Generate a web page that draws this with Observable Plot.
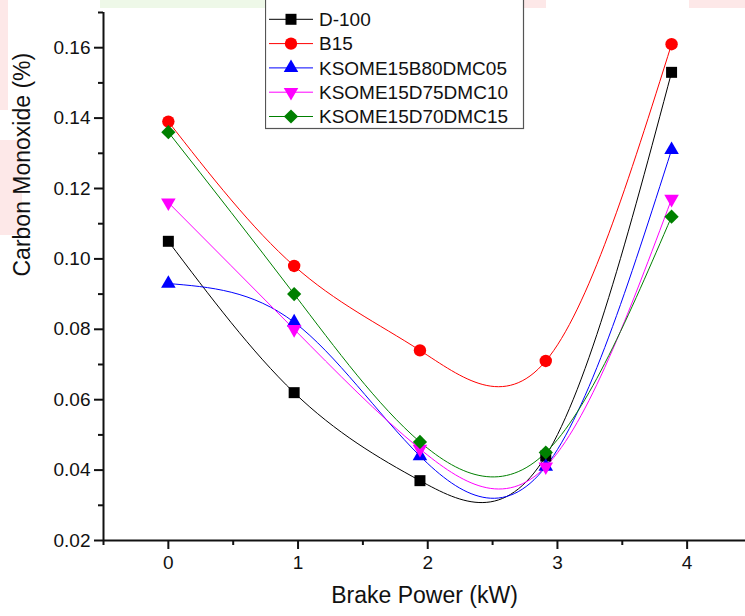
<!DOCTYPE html>
<html>
<head>
<meta charset="utf-8">
<script src="https://cdn.jsdelivr.net/npm/d3@7"></script>
<script src="https://cdn.jsdelivr.net/npm/@observablehq/plot@0.6"></script>
<style>
  html, body { margin: 0; padding: 0; background: #fff; }
  #wrap { position: relative; width: 745px; height: 616px; overflow: hidden; background: #fff; font-family: "Liberation Sans", Arial, sans-serif; }
  .wm { position: absolute; }
  #chart { position: absolute; left: 0; top: 0; }
  #legend { position: absolute; left: 265px; top: -6px; }
</style>
</head>
<body>
<div id="wrap">
  <div class="wm" style="left:100px;top:0;width:304px;height:8px;background:#eef8e8"></div>
  <div class="wm" style="left:451px;top:0;width:95px;height:8px;background:#fde8e8"></div>
  <div class="wm" style="left:689px;top:0;width:56px;height:8px;background:#fde8e8"></div>
  <div class="wm" style="left:0;top:0;width:8px;height:110px;background:#fde8e8"></div>
  <div class="wm" style="left:0;top:140px;width:22px;height:95px;background:#fde8e8"></div>
  <div id="chart"></div>
  <div id="legend"></div>
</div>
<script>
// ---- data ----
const brakePower = [0, 0.97, 1.94, 2.91, 3.88];
const seriesNames = ["D-100", "B15", "KSOME15B80DMC05", "KSOME15D75DMC10", "KSOME15D70DMC15"];
const d100 = [0.105, 0.062, 0.037, 0.044, 0.153];
const b15 = [0.139, 0.098, 0.074, 0.071, 0.161];
const ksome05 = [0.093, 0.082, 0.044, 0.041, 0.131];
const ksome10 = [0.116, 0.080, 0.046, 0.041, 0.117];
const ksome15 = [0.136, 0.090, 0.048, 0.045, 0.112];
const xTicks = [0, 1, 2, 3, 4];
const xMinorTicks = [-0.5, 0.5, 1.5, 2.5, 3.5];
const yTicks = [0.02, 0.04, 0.06, 0.08, 0.10, 0.12, 0.14, 0.16];
const yMinorTicks = [0.03, 0.05, 0.07, 0.09, 0.11, 0.13, 0.15, 0.17];

// ---- styling ----
const colors = ["#000000", "#ff0000", "#0000ff", "#ff00ff", "#008000"];
const triangleDown = {
  draw(context, size) {
    const y = -Math.sqrt(size / (Math.sqrt(3) * 3));
    context.moveTo(0, -y * 2);
    context.lineTo(-Math.sqrt(3) * y, y);
    context.lineTo(Math.sqrt(3) * y, y);
    context.closePath();
  }
};
const symbols = ["square", "circle", "triangle", triangleDown, "diamond2"];
const radii = [6.2, 6.2, 5.4, 5.4, 6.4];

const allValues = [d100, b15, ksome05, ksome10, ksome15];
const series = seriesNames.map((name, i) => ({
  name, color: colors[i], symbol: symbols[i], r: radii[i],
  data: brakePower.map((x, j) => ({x, y: allValues[i][j]}))
}));

const fontSize = 19;
const marks = [];
series.forEach(s => {
  marks.push(Plot.line(s.data, {x: "x", y: "y", curve: "natural", stroke: s.color, strokeWidth: 1}));
});
series.forEach(s => {
  marks.push(Plot.dot(s.data, {x: "x", y: "y", symbol: () => s.symbol, r: s.r, fill: s.color, stroke: "none"}));
});

const chart = Plot.plot({
  width: 745,
  height: 616,
  marginLeft: 103,
  marginRight: 0,
  marginTop: 12,
  marginBottom: 76,
  style: {fontFamily: "'Liberation Sans', Arial, sans-serif", background: "transparent", color: "#111", overflow: "visible"},
  x: {domain: [-0.5, 4.45], label: null},
  y: {domain: [0.02, 0.17], label: null},
  symbol: {type: "identity"},
  marks: [
    Plot.axisX({ticks: xMinorTicks, tickSize: 5, tickFormat: () => "", strokeWidth: 2, label: null}),
    Plot.axisX({ticks: xTicks, tickSize: 9, tickPadding: 6, tickFormat: d => String(d), fontSize, strokeWidth: 2, label: null}),
    Plot.axisY({ticks: yMinorTicks, tickSize: 5, tickFormat: () => "", strokeWidth: 2, label: null}),
    Plot.axisY({ticks: yTicks, tickSize: 9, tickPadding: 4, tickFormat: d => d.toFixed(2), fontSize, strokeWidth: 2, label: null}),
    Plot.ruleX([-0.5], {strokeWidth: 2}),
    Plot.ruleY([0.02], {strokeWidth: 2}),
    Plot.text(["Carbon Monoxide (%)"], {frameAnchor: "left", rotate: -90, dx: -81, fontSize: 23, fill: "#111"}),
    Plot.text(["Brake Power (kW)"], {frameAnchor: "bottom", dy: 62, fontSize: 23, fill: "#111"}),
    ...marks
  ]
});
document.getElementById("chart").appendChild(chart);

// ---- legend (inside plot area, top) ----
const rowH = 24.3, firstRow = 25.3;
const lw = 258, lh = firstRow + rowH * 4 + 11.5;
const ns = "http://www.w3.org/2000/svg";
const leg = d3.select("#legend").append("svg").attr("width", lw + 2).attr("height", lh + 2)
  .style("font-family", "'Liberation Sans', Arial, sans-serif");
leg.append("rect").attr("x", 0.5).attr("y", 0.5).attr("width", lw).attr("height", lh)
  .attr("fill", "white").attr("stroke", "#555").attr("stroke-width", 1.2);
series.forEach((s, i) => {
  const cy = firstRow + i * rowH;
  const g = leg.append("g").attr("transform", `translate(0,${cy})`);
  g.append("line").attr("x1", 4).attr("x2", 48).attr("y1", 0).attr("y2", 0).attr("stroke", s.color).attr("stroke-width", 1);
  const sym = typeof s.symbol === "string" ? {
    square: d3.symbolSquare, circle: d3.symbolCircle, triangle: d3.symbolTriangle, diamond2: d3.symbolDiamond2
  }[s.symbol] : s.symbol;
  g.append("path").attr("transform", "translate(26,0)")
    .attr("d", d3.symbol(sym, Math.PI * s.r * s.r)()).attr("fill", s.color);
  g.append("text").attr("x", 54).attr("y", 0).attr("dy", "0.36em").attr("font-size", fontSize)
    .attr("fill", "#111").text(s.name);
});
</script>
</body>
</html>
